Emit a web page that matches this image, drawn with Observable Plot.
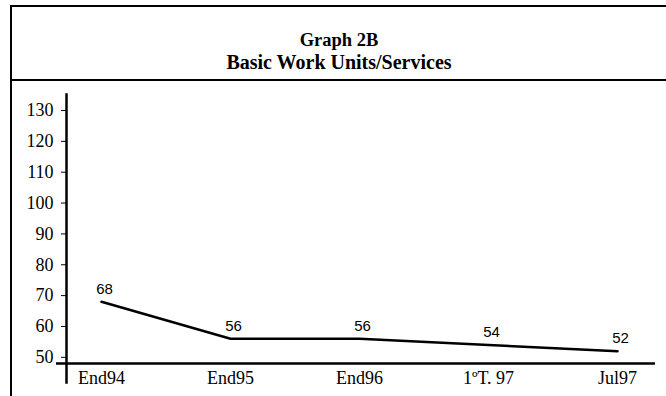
<!DOCTYPE html>
<html>
<head>
<meta charset="utf-8">
<script src="https://cdn.jsdelivr.net/npm/d3@7"></script>
<script src="https://cdn.jsdelivr.net/npm/@observablehq/plot@0.6"></script>
<style>
  html, body { margin: 0; padding: 0; background: #fff; width: 666px; height: 396px; overflow: hidden; }
  #frame { position: absolute; left: 10px; top: 5px; width: 700px; height: 420px;
           border-left: 2px solid #000; border-top: 2px solid #000; }
  #header { height: 72px; border-bottom: 2px solid #000; width: 654px;
            font-family: "Liberation Serif", "Times New Roman", serif; font-weight: bold;
            color: #000; text-align: center; }
  #header .t1 { position: absolute; top: 22px; width: 654px; font-size: 18.5px; line-height: 22px; }
  #header .t2 { position: absolute; top: 43px; width: 654px; font-size: 20px; line-height: 24px; }
  #chart { position: absolute; left: 0; top: 81px; }
</style>
</head>
<body>
<div id="frame">
  <div id="header">
    <div class="t1">Graph 2B</div>
    <div class="t2">Basic Work Units/Services</div>
  </div>
</div>
<div id="chart"></div>
<script>
const periods = ["End94", "End95", "End96", "1ºT. 97", "Jul97"];
const values = [68, 56, 56, 54, 52];
const yTicks = [50, 60, 70, 80, 90, 100, 110, 120, 130];

const data = periods.map((p, i) => ({period: p, value: values[i]}));

const chart = Plot.plot({
  width: 666,
  height: 315,
  marginLeft: 66,
  marginRight: 11,
  marginTop: 29,
  marginBottom: 33,
  style: {background: "transparent", color: "#000", overflow: "visible"},
  x: {type: "point", domain: periods, padding: 0, insetLeft: 33, insetRight: 37, label: null},
  y: {domain: [48, 130], label: null},
  marks: [
    Plot.axisY({ticks: yTicks, tickSize: 5, tickPadding: 8, strokeWidth: 1,
      fontFamily: "Liberation Serif, Times New Roman, serif", fontSize: 18, label: null}),
    Plot.axisX({tickSize: 0, tickPadding: 8,
      fontFamily: "Liberation Serif, Times New Roman, serif", fontSize: 18, label: null}),
    Plot.frame({anchor: "left", strokeWidth: 2.5, insetTop: -16, insetBottom: -19}),
    Plot.ruleY([48], {strokeWidth: 2.5, insetLeft: -10}),
    Plot.line(data, {x: "period", y: "value", stroke: "#000", strokeWidth: 2.5}),
    Plot.text(data, {x: "period", y: "value", text: d => String(d.value), dy: -13, dx: 3,
      fontFamily: "Liberation Sans, Arial, sans-serif", fontSize: 15, fill: "#000"})
  ]
});
document.getElementById("chart").appendChild(chart);
</script>
</body>
</html>
